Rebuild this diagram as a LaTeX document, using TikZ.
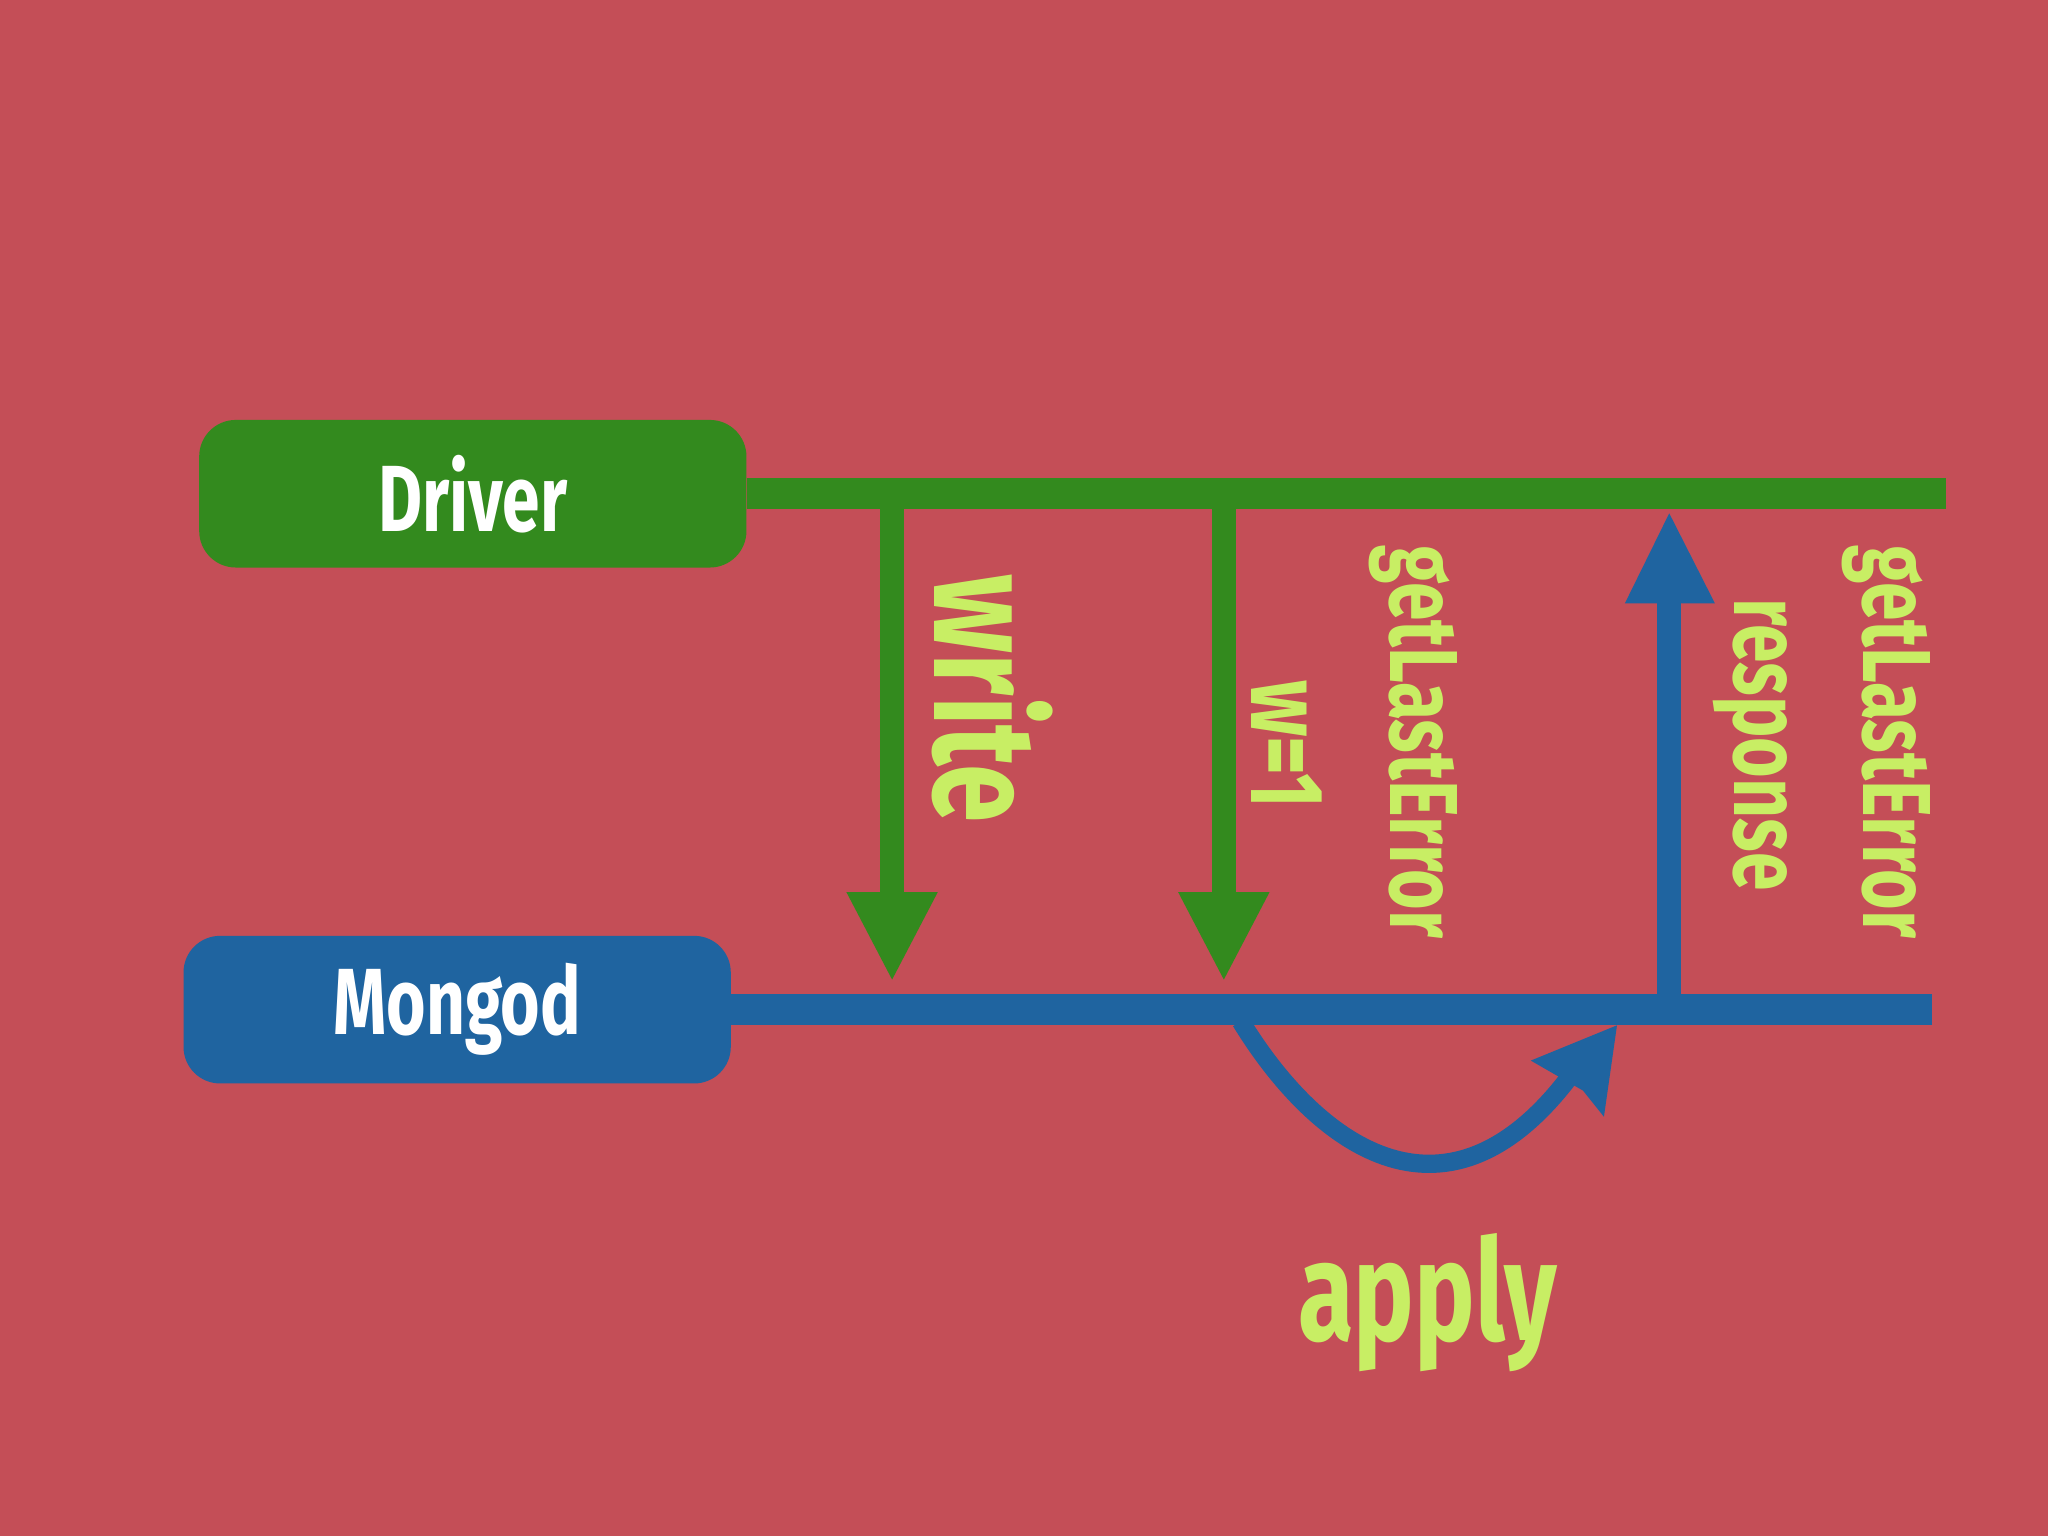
\documentclass[tikz,border=0pt]{standalone}
\usepackage{fontspec}
\setmainfont{Fira Sans}[FakeStretch=0.72]
\begin{document}
\begin{tikzpicture}[x=1pt,y=-1pt,
 box/.style={rounded corners=28pt,minimum width=419pt,minimum height=113pt,text=white,font=\fontsize{72}{72}\selectfont\bfseries},
 lbl/.style={text=lime,font=\fontsize{74}{74}\selectfont\bfseries,rotate=-90},
 garr/.style={draw=dgreen,line width=18pt}]
\definecolor{bg}{HTML}{C44E57}
\definecolor{dgreen}{HTML}{338A1E}
\definecolor{dblue}{HTML}{1F64A0}
\definecolor{lime}{HTML}{C8EE64}
\fill[bg] (0,0) rectangle (1568,1176);
\useasboundingbox (0,0) rectangle (1568,1176);
\node[box,fill=dgreen] (driver) at (362,378) {Driver};
\node[box,fill=dblue] (mongod) at (350,773) {Mongod};
\coordinate (dend) at (1490,378);
\coordinate (mend) at (1479,773);
\draw[dgreen,line width=24pt] (driver.east) -- (dend);
\draw[dblue,line width=24pt] (mongod.east) -- (mend);
% write arrows
\coordinate (w1s) at (683,390); \coordinate (w1e) at (683,690);
\coordinate (w2s) at (937,390); \coordinate (w2e) at (937,690);
\draw[garr] (w1s) -- (w1e);
\fill[dgreen] (648,683) -- (718,683) -- (683,750) -- cycle;
\draw[garr] (w2s) -- (w2e);
\fill[dgreen] (902,683) -- (972,683) -- (937,750) -- cycle;
% response
\coordinate (rs) at (1278,762); \coordinate (re) at (1278,455);
\draw[dblue,line width=18pt] (rs) -- (re);
\fill[dblue] (1244,462) -- (1313,462) -- (1278,393) -- cycle;
% apply curve
\coordinate (as) at (950,782); \coordinate (ae) at (1205,820);
\draw[dblue,line width=14pt] (as) .. controls (1010,880) and (1110,950) .. (ae);
\fill[dblue] (1172,812) -- (1238,785) -- (1228,855) -- (1212,835) -- cycle;
% labels
\node[lbl,font=\fontsize{112}{112}\selectfont\bfseries] (write) at (760,535) {write};
\node[lbl,font=\fontsize{80}{80}\selectfont\bfseries] (w1) at (985,570) {w=1};
\node[lbl] (gle1) at (1082,568) {getLastError};
\node[lbl] (resp) at (1340,570) {response};
\node[lbl] (gle2) at (1444,568) {getLastError};
\node[text=lime,font=\fontsize{108}{108}\selectfont\bfseries] (apply) at (1093,997) {apply};
\end{tikzpicture}
\end{document}
